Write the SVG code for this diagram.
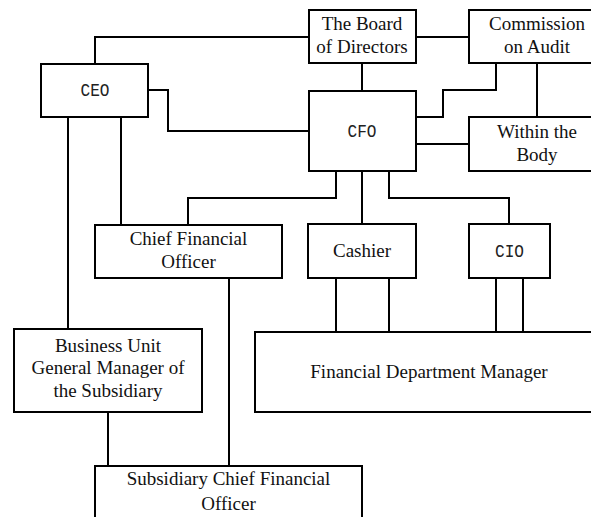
<svg xmlns="http://www.w3.org/2000/svg" width="591" height="517" viewBox="0 0 591 517">
<style>
rect{fill:#fff;stroke:#000;stroke-width:2}
#connectors path{fill:none;stroke:#000;stroke-width:2}
.t{font-family:"Liberation Serif","Times New Roman",serif;font-size:19px;fill:#111;text-anchor:middle}
.m{font-family:"Liberation Mono","Courier New",monospace;font-size:18px;fill:#222;text-anchor:middle}
</style>
<rect x="0" y="0" width="591" height="517" style="stroke:none"/>
<g id="connectors">
<path d="M95 64V37H309"/>
<path d="M416 37H469"/>
<path d="M362 63V91"/>
<path d="M148 90H168V131H309"/>
<path d="M496 63V90H443V117H416"/>
<path d="M537 63V117"/>
<path d="M416 144H469"/>
<path d="M121 117V225"/>
<path d="M68 117V329"/>
<path d="M336 171V198H188V225"/>
<path d="M362 171V224"/>
<path d="M389 171V198H509V224"/>
<path d="M336 278V332M389 278V332"/>
<path d="M496 278V332M523 278V332"/>
<path d="M229 278V466"/>
<path d="M108 412V466"/>
</g>
<g id="board"><rect x="309" y="10" width="107" height="53"/><text class="t" x="362" y="30">The Board</text><text class="t" x="362" y="53">of Directors</text></g>
<g id="audit"><rect x="469" y="10" width="136" height="53"/><text class="t" x="537" y="30">Commission</text><text class="t" x="537" y="53">on Audit</text></g>
<g id="ceo"><rect x="41" y="64" width="107" height="53"/><text class="m" x="95" y="96" textLength="29" lengthAdjust="spacingAndGlyphs">CEO</text></g>
<g id="cfo"><rect x="309" y="91" width="107" height="80"/><text class="m" x="362" y="137" textLength="29" lengthAdjust="spacingAndGlyphs">CFO</text></g>
<g id="within"><rect x="469" y="117" width="136" height="54"/><text class="t" x="537" y="138">Within the</text><text class="t" x="537" y="161">Body</text></g>
<g id="chief"><rect x="95" y="225" width="187" height="53"/><text class="t" x="188.5" y="245">Chief Financial</text><text class="t" x="188.5" y="268">Officer</text></g>
<g id="cashier"><rect x="308" y="224" width="108" height="54"/><text class="t" x="362" y="257">Cashier</text></g>
<g id="cio"><rect x="469" y="224" width="81" height="54"/><text class="m" x="509.5" y="257" textLength="29" lengthAdjust="spacingAndGlyphs">CIO</text></g>
<g id="fdm"><rect x="255" y="332" width="350" height="80"/><text class="t" x="429" y="378">Financial Department Manager</text></g>
<g id="bu"><rect x="14" y="329" width="188" height="83"/><text class="t" x="108" y="352">Business Unit</text><text class="t" x="108" y="374">General Manager of</text><text class="t" x="108" y="397">the Subsidiary</text></g>
<g id="sub"><rect x="95" y="466" width="267" height="70"/><text class="t" x="228.5" y="485">Subsidiary Chief Financial</text><text class="t" x="228.5" y="510">Officer</text></g>
</svg>
